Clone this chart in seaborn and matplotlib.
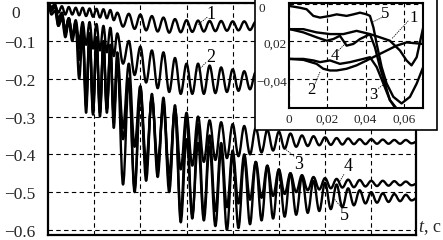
import numpy as np
import pandas as pd
import seaborn as sns
import matplotlib
matplotlib.use("Agg")
import matplotlib.pyplot as plt
from matplotlib.patches import Rectangle, PathPatch
from matplotlib.path import Path
from matplotlib.transforms import ScaledTranslation

# ---------------- data ----------------
# main plot: extrema of the oscillations, read at these times (s);
# the first part oscillates faster than the rest
t_main = [0.0, 0.0075, 0.015, 0.0225, 0.03, 0.0375, 0.045, 0.0525, 0.06, 0.0675,
          0.075, 0.0825, 0.09, 0.0975, 0.105, 0.1125, 0.12, 0.1275, 0.135, 0.1425,
          0.15, 0.1625, 0.175, 0.1875, 0.2, 0.2125, 0.225, 0.2375,
          0.25, 0.2625, 0.275, 0.2875, 0.3, 0.3125, 0.325, 0.3375, 0.35, 0.3625,
          0.375, 0.3875, 0.4, 0.4125, 0.425, 0.4375, 0.45, 0.4625, 0.475, 0.4875,
          0.5, 0.5125, 0.525, 0.5375, 0.55, 0.5625, 0.575, 0.5875, 0.6, 0.6125,
          0.625, 0.6375, 0.65, 0.6625, 0.675, 0.6875, 0.7, 0.7125, 0.725, 0.7375,
          0.75, 0.7625, 0.775, 0.7875, 0.8]

curve1 = [0.0, -0.020, -0.005, -0.025, -0.008, -0.030, -0.010, -0.030, -0.012, -0.032,
          -0.012, -0.034, -0.014, -0.036, -0.015, -0.038, -0.016, -0.040, -0.018, -0.045,
          -0.025, -0.062, -0.028, -0.068, -0.030, -0.072, -0.034, -0.075,
          -0.038, -0.078, -0.042, -0.077, -0.045, -0.076, -0.046, -0.075, -0.047, -0.074,
          -0.047, -0.073, -0.048, -0.072, -0.048, -0.071, -0.049, -0.070, -0.050, -0.068,
          -0.050, -0.068, -0.050, -0.068, -0.050, -0.068, -0.050, -0.068, -0.050, -0.068,
          -0.050, -0.068, -0.050, -0.068, -0.050, -0.068, -0.050, -0.068, -0.050, -0.068,
          -0.050, -0.068, -0.050, -0.068, -0.059]

curve2 = [0.0, -0.030, -0.020, -0.060, -0.035, -0.080, -0.040, -0.090, -0.045, -0.100,
          -0.050, -0.110, -0.050, -0.120, -0.055, -0.125, -0.060, -0.130, -0.065, -0.140,
          -0.080, -0.160, -0.100, -0.190, -0.115, -0.210, -0.125, -0.225,
          -0.130, -0.235, -0.145, -0.240, -0.160, -0.240, -0.160, -0.240, -0.165, -0.238,
          -0.170, -0.235, -0.175, -0.232, -0.180, -0.228, -0.182, -0.225, -0.185, -0.222,
          -0.185, -0.220, -0.186, -0.220, -0.186, -0.218, -0.187, -0.218, -0.188, -0.216,
          -0.188, -0.216, -0.189, -0.215, -0.190, -0.214, -0.190, -0.213, -0.191, -0.212,
          -0.192, -0.211, -0.193, -0.210, -0.200]

curve3 = [0.0, -0.015, -0.010, -0.050, -0.030, -0.070, -0.040, -0.085, -0.050, -0.150,
          -0.070, -0.250, -0.080, -0.270, -0.090, -0.280, -0.100, -0.280, -0.110, -0.300,
          -0.130, -0.330, -0.160, -0.380, -0.220, -0.420, -0.250, -0.440,
          -0.270, -0.450, -0.280, -0.440, -0.290, -0.430, -0.300, -0.420, -0.310, -0.415,
          -0.315, -0.410, -0.320, -0.405, -0.325, -0.400, -0.330, -0.395, -0.335, -0.390,
          -0.340, -0.385, -0.345, -0.380, -0.350, -0.378, -0.352, -0.376, -0.355, -0.375,
          -0.357, -0.374, -0.358, -0.373, -0.360, -0.373, -0.360, -0.372, -0.361, -0.372,
          -0.362, -0.372, -0.362, -0.371, -0.366]

curve4 = [0.0, -0.020, -0.005, -0.060, -0.040, -0.090, -0.050, -0.100, -0.060, -0.200,
          -0.080, -0.290, -0.090, -0.295, -0.100, -0.290, -0.110, -0.290, -0.120, -0.330,
          -0.150, -0.480, -0.200, -0.490, -0.220, -0.470, -0.240, -0.460,
          -0.250, -0.480, -0.270, -0.560, -0.300, -0.570, -0.320, -0.560, -0.350, -0.550,
          -0.370, -0.540, -0.390, -0.530, -0.400, -0.520, -0.420, -0.515, -0.430, -0.510,
          -0.440, -0.505, -0.450, -0.500, -0.455, -0.495, -0.460, -0.493, -0.463, -0.490,
          -0.465, -0.488, -0.467, -0.487, -0.468, -0.485, -0.470, -0.484, -0.470, -0.483,
          -0.471, -0.482, -0.472, -0.482, -0.477]

curve5 = [0.0, -0.010, -0.003, -0.040, -0.025, -0.070, -0.040, -0.090, -0.055, -0.120,
          -0.060, -0.270, -0.080, -0.290, -0.100, -0.300, -0.110, -0.280, -0.120, -0.300,
          -0.160, -0.360, -0.200, -0.500, -0.240, -0.440, -0.250, -0.420,
          -0.270, -0.500, -0.280, -0.580, -0.360, -0.560, -0.370, -0.575, -0.380, -0.590,
          -0.390, -0.600, -0.400, -0.595, -0.410, -0.585, -0.420, -0.575, -0.430, -0.570,
          -0.440, -0.565, -0.450, -0.560, -0.460, -0.555, -0.470, -0.550, -0.475, -0.545,
          -0.480, -0.540, -0.490, -0.535, -0.495, -0.530, -0.500, -0.528, -0.503, -0.526,
          -0.505, -0.524, -0.507, -0.522, -0.515]

main_curves = [curve1, curve2, curve3, curve4, curve5]
curve_names = ["1", "2", "3", "4", "5"]

y_ticks = [0.0, -0.1, -0.2, -0.3, -0.4, -0.5, -0.6]
y_tick_labels = ["0", "\u22120.1", "\u22120.2", "\u22120.3", "\u22120.4", "\u22120.5", "\u22120.6"]
x_grid = [0.1, 0.2, 0.3, 0.4, 0.5, 0.6, 0.7]

# labels of the main curves: text position and leader line (data units)
main_label_pos = {"1": (0.352, -0.029), "2": (0.352, -0.145), "3": (0.543, -0.426),
                  "4": (0.650, -0.431), "5": (0.641, -0.563)}
main_leaders = {"1": ((0.345, 0.325), (-0.037, -0.057)),
                "2": ((0.342, 0.324), (-0.157, -0.180)),
                "3": ((0.533, 0.515), (-0.405, -0.387)),
                "4": ((0.641, 0.628), (-0.453, -0.479)),
                "5": ((0.635, 0.620), (-0.540, -0.518))}

# inset (first 0.07 s)
in1_t = [0.0005, 0.0075, 0.0144, 0.0214, 0.0284, 0.0353, 0.0423, 0.0475, 0.0527, 0.058, 0.0614, 0.064, 0.0667, 0.0701]
in1_v = [-0.0135, -0.0135, -0.0152, -0.0161, -0.0161, -0.0144, -0.0161, -0.0178, -0.0196, -0.0248, -0.0300, -0.0326, -0.0283, -0.0126]
in2_t = [0.0005, 0.0075, 0.0144, 0.0179, 0.0214, 0.0249, 0.0301, 0.0353, 0.0406, 0.0458, 0.051, 0.0562, 0.0614, 0.0701]
in2_v = [-0.0292, -0.0297, -0.0318, -0.0344, -0.0353, -0.0353, -0.0344, -0.0326, -0.0300, -0.0274, -0.0248, -0.0222, -0.0205, -0.0213]
in3_t = [0.0005, 0.0075, 0.0127, 0.0162, 0.0214, 0.0266, 0.0319, 0.0388, 0.0423, 0.0458, 0.0493, 0.0527, 0.0562]
in3_v = [-0.0292, -0.0292, -0.0300, -0.0309, -0.0300, -0.0318, -0.0309, -0.0292, -0.0283, -0.0335, -0.0422, -0.0509, -0.0553]
in4_t = [0.0005, 0.0075, 0.0144, 0.0197, 0.0232, 0.0266, 0.0301, 0.0336, 0.0371, 0.0406, 0.0423, 0.0449, 0.0475, 0.0501, 0.0527, 0.0562]
in4_v = [-0.0135, -0.0152, -0.0178, -0.0196, -0.0187, -0.0170, -0.0222, -0.0213, -0.0187, -0.0170, -0.0161, -0.0231, -0.0335, -0.0422, -0.0509, -0.0561]
in5_t = [0.0005, 0.0057, 0.0092, 0.0127, 0.0162, 0.0214, 0.0249, 0.0301, 0.0336, 0.0371, 0.0406, 0.0423, 0.0441, 0.0458, 0.0484, 0.051, 0.0545, 0.0588, 0.0632, 0.0667, 0.0701]
in5_v = [-0.0013, -0.0022, -0.0030, -0.0065, -0.0074, -0.0065, -0.0057, -0.0065, -0.0057, -0.0048, -0.0057, -0.0065, -0.0126, -0.0213, -0.0335, -0.0422, -0.0492, -0.0527, -0.0492, -0.0422, -0.0335]
inset_curves = [(in1_t, in1_v), (in2_t, in2_v), (in3_t, in3_v), (in4_t, in4_v), (in5_t, in5_v)]

in_x_ticks = [0.0, 0.02, 0.04, 0.06]
in_x_labels = ["0", "0,02", "0,04", "0,06"]
in_y_ticks = [0.0, -0.02, -0.04]
in_y_labels = ["0", "0,02", "\u22120,04"]
inset_label_pos = {"5": (0.0501, -0.0057), "1": (0.0649, -0.0074), "4": (0.024, -0.0274),
                   "2": (0.0118, -0.0457), "3": (0.044, -0.0483)}
inset_leaders = {"5": ((0.0484, 0.0432), (-0.0074, -0.0100)),
                 "1": ((0.0623, 0.0536), (-0.0091, -0.0187)),
                 "4": ((0.0258, 0.0301), (-0.0248, -0.0204)),
                 "2": ((0.0136, 0.0162), (-0.0422, -0.0361)),
                 "3": ((0.0466, 0.0501), (-0.0448, -0.0422))}

# ---------------- drawing ----------------
sns.set_theme(style="white")
plt.rcParams["font.family"] = ["Liberation Serif", "DejaVu Serif"]
plt.rcParams["mathtext.fontset"] = "custom"
plt.rcParams["mathtext.it"] = "Liberation Serif:italic"
plt.rcParams["mathtext.rm"] = "Liberation Serif"

W, H = 443, 240
DPI = 100
fig = plt.figure(figsize=(W / DPI, H / DPI), dpi=DPI)
fig.patch.set_facecolor("white")


def fx(px):
    return px / W


def fy(py):
    return 1 - py / H


def px_shift(dx, dy):
    return ScaledTranslation(dx / DPI, -dy / DPI, fig.dpi_scale_trans)


LW = 1.7


def smooth_wave(axis, ts, vs):
    """Draw the oscillation through its read extrema with smooth (flat-topped) joins."""
    verts = [(ts[0], vs[0])]
    codes = [Path.MOVETO]
    for i in range(len(ts) - 1):
        d = ts[i + 1] - ts[i]
        verts += [(ts[i] + 0.364 * d, vs[i]), (ts[i + 1] - 0.364 * d, vs[i + 1]),
                  (ts[i + 1], vs[i + 1])]
        codes += [Path.CURVE4] * 3
    patch = PathPatch(Path(verts, codes), fill=False, edgecolor="black", lw=LW,
                      transform=axis.transData, capstyle="round", joinstyle="round")
    axis.add_patch(patch)


ax = fig.add_axes([fx(48), fy(235), fx(416) - fx(48), fy(3) - fy(235)])
ax.set_facecolor("white")
for vals in main_curves:
    smooth_wave(ax, t_main, vals)
ax.set_xlim(0, 0.797)
ax.set_ylim(-0.6135, 0.0005)
ax.set_xticks(x_grid)
ax.set_xticklabels([])
ax.set_yticks(y_ticks)
ax.set_yticklabels(y_tick_labels, fontsize=12.5)
ax.set_xlabel("")
ax.set_ylabel("")
ax.tick_params(length=0, pad=9)
ax.grid(True, color="black", lw=0.8, ls=(0, (4, 3)))
for sp in ax.spines.values():
    sp.set_color("black")
    sp.set_linewidth(1.6)
for lab in ax.get_yticklabels():
    if lab.get_text() == "0":
        lab.set_transform(lab.get_transform() + px_shift(-16, 9))
    else:
        lab.set_transform(lab.get_transform() + px_shift(0, 1))

for name in curve_names:
    tx, ty = main_label_pos[name]
    ax.text(tx, ty, name, fontsize=13, ha="center", va="center", color="black")
    lx, ly = main_leaders[name]
    ax.plot(lx, ly, color="black", lw=0.6, ls=(0, (1.5, 1.2)))

fig.text(fx(418), fy(228), "$t$, c", fontsize=13, ha="left", va="center")

# inset box
box = Rectangle((fx(255), fy(130)), fx(437) - fx(255), fy(0) - fy(130) + 0.01,
                transform=fig.transFigure, facecolor="white", edgecolor="black",
                lw=1.2, zorder=2)
fig.add_artist(box)

axi = fig.add_axes([fx(289), fy(108), fx(423) - fx(289), fy(3) - fy(108)], zorder=3)
axi.set_facecolor("white")
for tt, vv in inset_curves:
    dfi = pd.DataFrame({"t": tt, "v": vv})
    sns.lineplot(data=dfi, x="t", y="v", ax=axi, color="black", lw=LW,
                 estimator=None, sort=False, legend=False)
axi.set_xlim(0, 0.07)
axi.set_ylim(-0.0551, 0.0003)
axi.set_xticks(in_x_ticks)
axi.set_xticklabels(in_x_labels, fontsize=9.5)
axi.set_yticks(in_y_ticks)
axi.set_yticklabels(in_y_labels, fontsize=9.5)
axi.set_xlabel("")
axi.set_ylabel("")
axi.tick_params(axis="x", length=0, pad=4)
axi.tick_params(axis="y", length=0, pad=1.5)
axi.grid(True, color="black", lw=0.8, ls=(0, (4, 3)))
for sp in axi.spines.values():
    sp.set_color("black")
    sp.set_linewidth(1.5)
for lab in axi.get_yticklabels():
    if lab.get_text() == "0":
        lab.set_transform(lab.get_transform() + px_shift(-22, 4))
    else:
        lab.set_transform(lab.get_transform() + px_shift(0, 2))
for name in curve_names:
    tx, ty = inset_label_pos[name]
    axi.text(tx, ty, name, fontsize=12, ha="center", va="center", color="black")
    lx, ly = inset_leaders[name]
    axi.plot(lx, ly, color="black", lw=0.6, ls=(0, (1.5, 1.2)))

fig.savefig("out.png", dpi=DPI, facecolor="white")
